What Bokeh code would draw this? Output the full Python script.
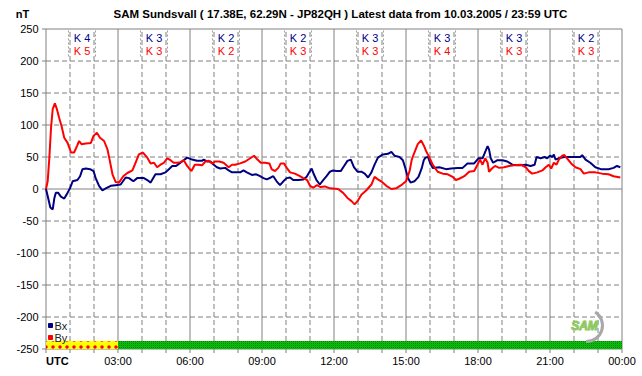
from bokeh.plotting import figure
from bokeh.models import Range1d
from bokeh.core.properties import value
from bokeh.embed import file_html
from bokeh.resources import INLINE

# ---------------- data ----------------
bx_hours = [0, 0.07, 0.18, 0.28, 0.35, 0.41, 0.51, 0.62, 0.76, 0.87, 1.01, 1.11, 1.31, 1.42, 1.52, 1.66,
            1.84, 1.98, 2.07, 2.21, 2.35, 2.49, 2.7, 2.9, 3.11, 3.32, 3.46, 3.64, 3.8, 3.94, 4.08, 4.22,
            4.36, 4.56, 4.77, 4.98, 5.12, 5.26, 5.42, 5.56, 5.67, 5.88, 6.09, 6.29, 6.5, 6.57, 6.71, 6.85,
            6.99, 7.12, 7.26, 7.47, 7.61, 7.75, 7.95, 8.09, 8.23, 8.37, 8.58, 8.76, 8.92, 9.06, 9.2, 9.37,
            9.47, 9.61, 9.75, 9.89, 10.03, 10.17, 10.3, 10.51, 10.72, 10.86, 10.97, 11.07, 11.16, 11.27,
            11.41, 11.55, 11.69, 11.83, 11.96, 12.1, 12.28, 12.42, 12.56, 12.7, 12.83, 12.98, 13.14, 13.28,
            13.42, 13.56, 13.69, 13.83, 14.04, 14.25, 14.39, 14.52, 14.73, 14.87, 14.97, 15.08, 15.19,
            15.35, 15.52, 15.66, 15.74, 15.81, 15.92, 16.0, 16.11, 16.39, 16.67, 16.88, 17.15, 17.36,
            17.56, 17.84, 18.02, 18.19, 18.3, 18.4, 18.46, 18.53, 18.63, 18.81, 19.02, 19.22, 19.43,
            19.63, 19.78, 19.99, 20.19, 20.36, 20.44, 20.61, 20.78, 20.88, 21.0, 21.1, 21.16, 21.23,
            21.37, 21.58, 21.78, 22.06, 22.27, 22.34, 22.48, 22.68, 22.89, 23.12, 23.44, 23.65, 23.79, 23.93]
bx_values = [0, -11, -29, -32, -14, -6, -6, -12, -15, -8, 2, 12, 14, 20, 31, 32,
             31, 28, 17, 5, -2, 1, 5, 6, 7, 18, 17, 12, 17, 17, 17, 14,
             10, 23, 23, 26, 31, 36, 36, 40, 43, 49, 46, 44, 44, 46, 43, 43,
             38, 34, 32, 33, 29, 26, 26, 26, 29, 26, 22, 23, 20, 17, 15, 18,
             20, 12, 6, 12, 17, 18, 14, 14, 15, 19, 26, 32, 23, 14,
             7, 14, 20, 27, 29, 28, 28, 36, 44, 46, 34, 27, 27, 24,
             18, 26, 38, 49, 54, 55, 58, 52, 50, 45, 33, 17, 10,
             12, 19, 33, 45, 49, 50, 41, 33, 34, 31, 32, 33, 33,
             40, 40, 48, 48, 58, 67, 62, 48, 41, 45, 45, 43, 38,
             37, 37, 38, 36, 38, 50, 48, 50, 48, 52, 50, 54, 46,
             48, 50, 50, 50, 50, 53, 46, 41, 34, 31, 31, 33, 36, 34]

by_hours = [0, 0.07, 0.14, 0.21, 0.28, 0.37, 0.46, 0.55, 0.65, 0.76, 0.9, 1.04, 1.17, 1.29, 1.38, 1.48,
            1.66, 1.87, 1.98, 2.12, 2.25, 2.42, 2.56, 2.66, 2.77, 2.9, 3.04, 3.22, 3.39, 3.6, 3.73, 3.87,
            4.04, 4.22, 4.36, 4.5, 4.63, 4.77, 4.91, 5.05, 5.19, 5.32, 5.46, 5.6, 5.74, 5.88, 6.06, 6.2,
            6.34, 6.5, 6.64, 6.78, 6.92, 7.05, 7.22, 7.4, 7.61, 7.75, 7.88, 8.09, 8.3, 8.51, 8.67, 8.81,
            8.95, 9.13, 9.31, 9.4, 9.54, 9.68, 9.78, 9.92, 10.03, 10.17, 10.37, 10.58, 10.72, 10.88, 11.0,
            11.13, 11.3, 11.44, 11.62, 11.83, 12.17, 12.38, 12.56, 12.73, 12.86, 12.98, 13.14, 13.35,
            13.56, 13.69, 13.83, 14.0, 14.18, 14.39, 14.59, 14.8, 15.0, 15.15, 15.24, 15.35, 15.49,
            15.63, 15.74, 15.84, 15.98, 16.11, 16.32, 16.53, 16.74, 16.94, 17.08, 17.22, 17.43, 17.63,
            17.84, 17.98, 18.08, 18.19, 18.3, 18.4, 18.46, 18.58, 18.71, 18.88, 19.09, 19.29, 19.5,
            19.78, 19.99, 20.12, 20.26, 20.47, 20.68, 20.82, 20.95, 21.05, 21.16, 21.27, 21.37, 21.51,
            21.6, 21.71, 21.88, 22.06, 22.27, 22.41, 22.61, 22.89, 23.17, 23.44, 23.65, 23.93]
by_values = [0, 12, 49, 96, 125, 134, 124, 111, 98, 80, 72, 57, 57, 67, 75, 70,
             71, 72, 83, 88, 80, 75, 62, 44, 23, 11, 10, 20, 25, 29, 41, 54,
             57, 49, 40, 41, 34, 38, 41, 48, 45, 41, 41, 42, 45, 36, 28, 38,
             38, 37, 43, 44, 40, 43, 43, 41, 34, 38, 38, 40, 43, 48, 52, 46,
             41, 41, 40, 31, 28, 33, 40, 40, 33, 26, 24, 20, 17, 14, 5,
             2, 6, 3, 4, 1, 0, -6, -14, -19, -24, -19, -9, -2,
             7, 19, 15, 11, 5, 0, 1, 6, 12, 28, 46, 57, 70,
             76, 68, 59, 49, 38, 27, 24, 23, 19, 14, 16, 20, 27,
             28, 38, 46, 38, 48, 41, 27, 32, 36, 33, 34, 36, 37,
             38, 34, 28, 24, 26, 29, 34, 38, 32, 41, 38, 46, 52,
             53, 48, 40, 34, 31, 24, 26, 26, 24, 23, 20, 18]

k_start = [0, 3, 6, 9, 12, 15, 18, 21]
k_bx = [4, 3, 2, 2, 3, 3, 3, 2]
k_by = [5, 3, 2, 3, 3, 4, 3, 3]

y_ticks = [-250, -200, -150, -100, -50, 0, 50, 100, 150, 200, 250]
x_major = [0, 3, 6, 9, 12, 15, 18, 21, 24]
x_labels = ["UTC", "03:00", "06:00", "09:00", "12:00", "15:00", "18:00", "21:00", "00:00"]
x_minor = list(range(0, 25))

status_start = [0, 3]
status_end = [3, 24]

title_text = "SAM Sundsvall ( 17.38E, 62.29N - JP82QH ) Latest data from 10.03.2005 / 23:59 UTC"
unit_text = "nT"

# ---------------- geometry (pixel layout) ----------------
W, H = 642, 376
PXH = 24.0      # pixels per hour
PXV = 0.64      # pixels per nT
X0 = 45.5       # pixel column of 00:00
Y0 = 188.5      # pixel row of 0 nT


def hx(px):
    return (px - X0) / PXH


def vy(py):
    return (Y0 - py) / PXV


FONT = "Liberation Sans"
GRID = "#808080"
BLUE = "#000080"
RED = "#ff0000"
K_BLUE = "#00008c"
DASH = "5 3"

p = figure(width=W, height=H, x_range=Range1d(hx(0), hx(W)), y_range=Range1d(vy(H), vy(0)),
           output_backend="svg", toolbar_location=None, x_axis_type=None, y_axis_type=None,
           min_border=0)
p.min_border_left = p.min_border_right = p.min_border_top = p.min_border_bottom = 0
p.outline_line_color = None
p.grid.visible = False
p.background_fill_color = "white"
p.border_fill_color = "white"

y_lo, y_hi = y_ticks[0], y_ticks[-1]
x_lo, x_hi = x_major[0], x_major[-1]

# horizontal grid
dash_y = [t for t in y_ticks if t not in (0, y_lo, y_hi)]
solid_y = [t for t in y_ticks if t in (0, y_lo, y_hi)]
p.segment(x0=[x_lo] * len(dash_y), y0=dash_y, x1=[x_hi] * len(dash_y), y1=dash_y,
          line_color=GRID, line_width=1, line_dash=DASH)
p.segment(x0=[x_lo] * len(solid_y), y0=solid_y, x1=[x_hi] * len(solid_y), y1=solid_y,
          line_color=GRID, line_width=1)

# vertical grid
dash_x = [h for h in x_minor if h not in x_major]
p.segment(x0=dash_x, y0=[y_lo] * len(dash_x), x1=dash_x, y1=[y_hi] * len(dash_x),
          line_color=GRID, line_width=1, line_dash=DASH)
p.segment(x0=x_major, y0=[y_lo] * len(x_major), x1=x_major, y1=[y_hi] * len(x_major),
          line_color=GRID, line_width=1)

# axis ticks
p.segment(x0=[hx(X0 - 4)] * len(y_ticks), y0=y_ticks, x1=[x_lo] * len(y_ticks), y1=y_ticks,
          line_color=GRID, line_width=1)
tick_bottom = y_lo - 4 / PXV
p.segment(x0=x_minor, y0=[y_lo] * len(x_minor), x1=x_minor, y1=[tick_bottom] * len(x_minor),
          line_color=GRID, line_width=1)

# axis labels
p.text(x=[hx(38)] * len(y_ticks), y=y_ticks, text=[str(t) for t in y_ticks],
       text_font=value(FONT), text_font_size="11px", text_color="black",
       text_align="right", text_baseline="middle")
p.text(x=x_major[1:], y=[vy(360)] * (len(x_major) - 1), text=x_labels[1:],
       text_font=value(FONT), text_font_size="11px", text_color="black",
       text_align="center", text_baseline="middle")
p.text(x=[x_lo], y=[vy(360)], text=[x_labels[0]],
       text_font=value(FONT), text_font_size="11px", text_font_style="bold", text_color="black",
       text_align="left", text_baseline="middle")

# title and unit
p.text(x=[hx(340)], y=[vy(13)], text=[title_text],
       text_font=value(FONT), text_font_size="11.5px", text_font_style="bold", text_color="black",
       text_align="center", text_baseline="middle")
p.text(x=[hx(22)], y=[vy(13)], text=[unit_text],
       text_font=value(FONT), text_font_size="11px", text_font_style="bold", text_color="black",
       text_align="center", text_baseline="middle")

# status strip
strip_top = y_lo + 8 / PXV
p.quad(left=[status_start[0]], right=[status_end[0]], bottom=[y_lo], top=[strip_top],
       fill_color="#ffff00", line_color=None,
       hatch_pattern="dot", hatch_color=RED, hatch_scale=7, hatch_weight=1)
p.quad(left=[status_start[1]], right=[status_end[1]], bottom=[y_lo], top=[strip_top],
       fill_color="#10e010", line_color=None,
       hatch_pattern="criss_cross", hatch_color="#007000", hatch_scale=2, hatch_weight=1, hatch_alpha=0.5)

# data lines
p.line(bx_hours, bx_values, line_color=BLUE, line_width=2)
p.line(by_hours, by_values, line_color=RED, line_width=2)

# K indices
k_centers = [s + 1.5 for s in k_start]
p.text(x=k_centers, y=[vy(37)] * len(k_centers), text=["K %d" % k for k in k_bx],
       text_font=value(FONT), text_font_size="11px", text_color=K_BLUE,
       text_align="center", text_baseline="middle")
p.text(x=k_centers, y=[vy(50)] * len(k_centers), text=["K %d" % k for k in k_by],
       text_font=value(FONT), text_font_size="11px", text_color=RED,
       text_align="center", text_baseline="middle")
half = 13.5 / PXH
kx = [c - half for c in k_centers] + [c + half for c in k_centers]
p.segment(x0=kx, y0=[vy(30)] * len(kx), x1=kx, y1=[vy(57)] * len(kx),
          line_color="#a0a0a0", line_dash="2 2", line_width=1)

# legend
p.scatter(x=[hx(50)] * 2, y=[vy(325), vy(337)], marker="square", size=4, color=[BLUE, RED])
p.text(x=[hx(54)] * 2, y=[vy(325), vy(337)], text=["Bx", "By"],
       text_font=value(FONT), text_font_size="11px", text_color="#222222",
       text_align="left", text_baseline="middle")

# SAM logo (approximation)
p.arc(x=[hx(586)], y=[vy(325)], radius=16, radius_units="screen",
      start_angle=-1.6, end_angle=1.0, line_color="#a8a8a8", line_width=3)
p.text(x=[hx(584)], y=[vy(325)], text=["SAM"],
       text_font=value(FONT), text_font_size="12px", text_font_style="bold italic",
       text_color="#b4b4b4", text_align="center", text_baseline="middle",
       text_outline_color="#88cc55")

open("out.html", "w").write(file_html(p, INLINE))
